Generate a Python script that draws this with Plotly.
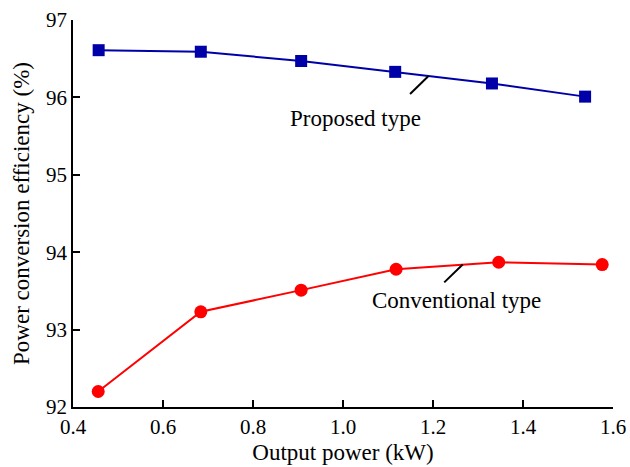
import plotly.graph_objects as go

x_proposed = [0.457, 0.684, 0.907, 1.116, 1.331, 1.538]
y_proposed = [96.61, 96.59, 96.47, 96.33, 96.18, 96.01]
x_conventional = [0.456, 0.684, 0.907, 1.118, 1.346, 1.576]
y_conventional = [92.20, 93.23, 93.51, 93.78, 93.87, 93.84]

x_ticks = [0.4, 0.6, 0.8, 1.0, 1.2, 1.4, 1.6]
x_tick_labels = ["0.4", "0.6", "0.8", "1.0", "1.2", "1.4", "1.6"]
y_ticks = [92, 93, 94, 95, 96, 97]

FONT = "Liberation Serif, Times New Roman, serif"

fig = go.Figure()
fig.add_trace(go.Scatter(
    x=x_proposed, y=y_proposed, mode="lines+markers", name="Proposed type",
    line=dict(color="#0000A8", width=2),
    marker=dict(symbol="square", size=12, color="#0000A8"),
    cliponaxis=False,
))
fig.add_trace(go.Scatter(
    x=x_conventional, y=y_conventional, mode="lines+markers", name="Conventional type",
    line=dict(color="#FF0000", width=2),
    marker=dict(symbol="circle", size=13, color="#FF0000"),
    cliponaxis=False,
))

# leader lines
fig.add_shape(type="line", x0=1.149, y0=96.044, x1=1.190, y1=96.276,
              line=dict(color="black", width=2), xref="x", yref="y")
fig.add_shape(type="line", x0=1.225, y0=93.61, x1=1.266, y1=93.84,
              line=dict(color="black", width=2), xref="x", yref="y")

fig.add_annotation(x=1.027, y=95.73, text="Proposed type", showarrow=False,
                   font=dict(family=FONT, size=23, color="black"), xref="x", yref="y")
fig.add_annotation(x=1.253, y=93.38, text="Conventional type", showarrow=False,
                   font=dict(family=FONT, size=23, color="black"), xref="x", yref="y")

fig.update_layout(
    width=630, height=467,
    margin=dict(l=73, r=17, t=20, b=60),
    plot_bgcolor="white", paper_bgcolor="white",
    showlegend=False,
    font=dict(family=FONT, size=21, color="black"),
)
fig.update_xaxes(
    range=[0.4, 1.6], tickvals=x_ticks, ticktext=x_tick_labels,
    showline=True, linecolor="black", linewidth=1.5, mirror=False,
    ticks="inside", ticklen=7, tickwidth=1.5, tickcolor="black",
    showgrid=False, zeroline=False, tickfont=dict(size=21), automargin=False,
    title=dict(text="Output power (kW)", font=dict(family=FONT, size=23), standoff=6),
)
fig.update_yaxes(
    range=[92, 97], tickvals=y_ticks,
    showline=True, linecolor="black", linewidth=1.5, mirror=False,
    ticks="inside", ticklen=7, tickwidth=1.5, tickcolor="black",
    showgrid=False, zeroline=False, tickfont=dict(size=21), automargin=False,
    title=dict(text="Power conversion efficiency (%)", font=dict(family=FONT, size=23), standoff=10),
)

fig.write_html("out.html")
